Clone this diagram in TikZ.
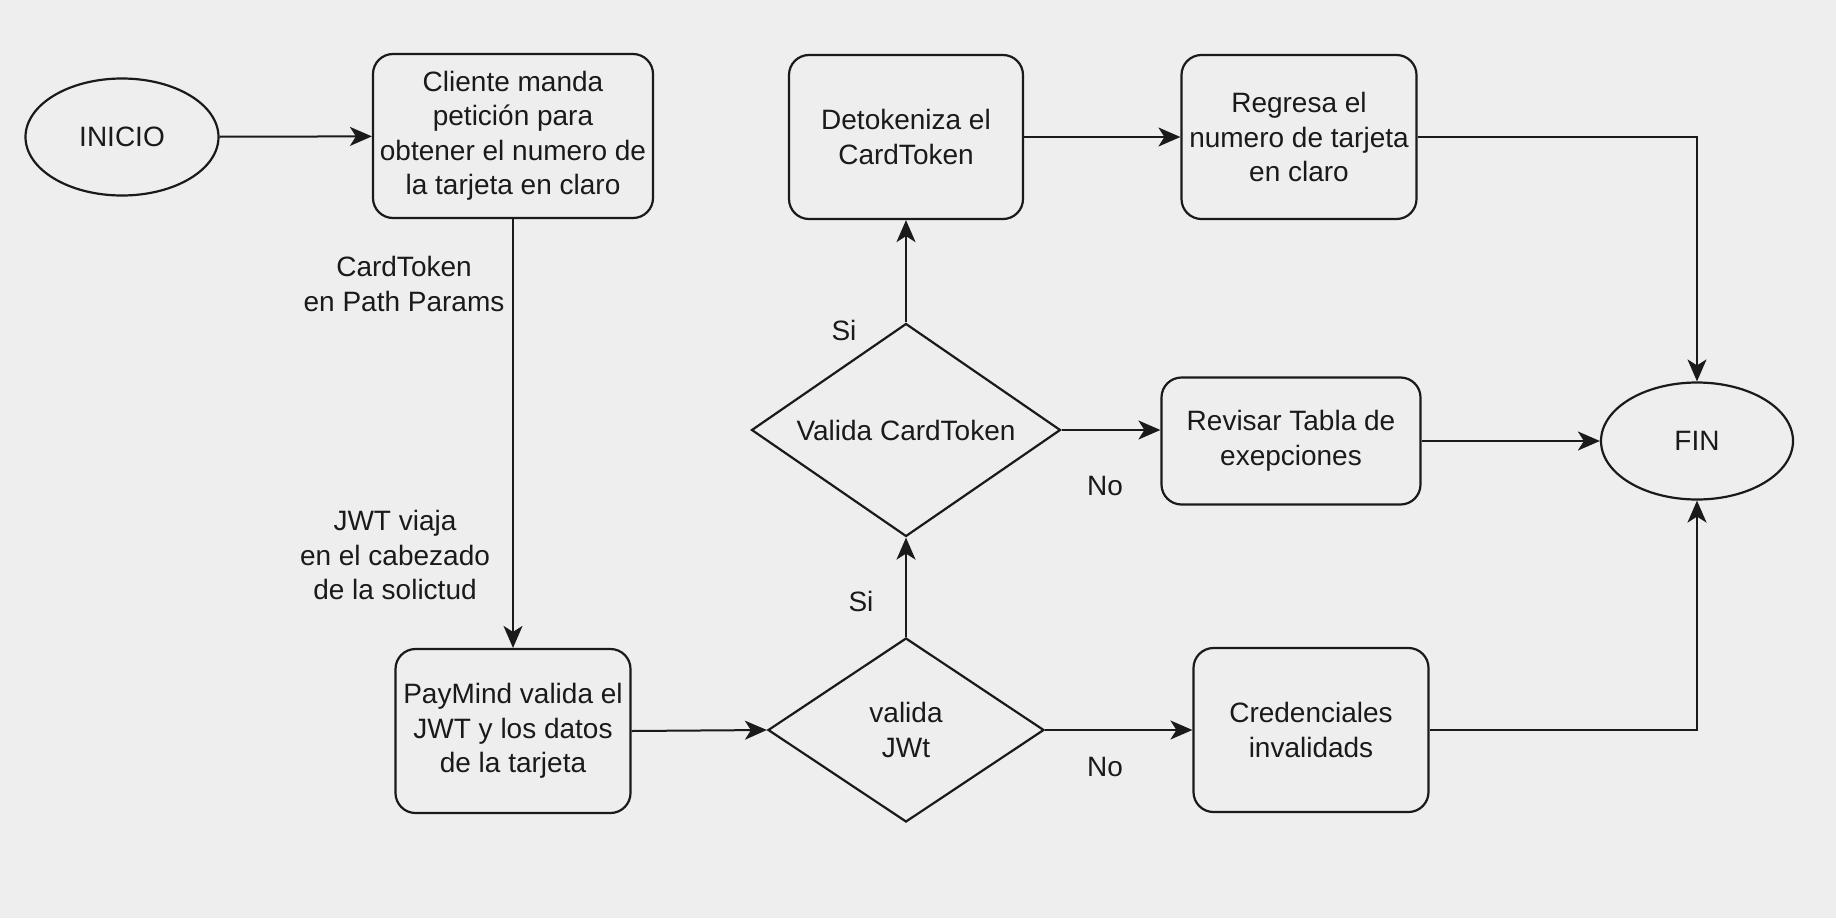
\documentclass[tikz,border=0pt]{standalone}
\usepackage{fontspec}
\setmainfont{Liberation Sans}
\usetikzlibrary{shapes.geometric,arrows.meta}
\definecolor{bgcol}{RGB}{238,238,238}
\definecolor{ink}{RGB}{26,26,26}
\begin{document}
\begin{tikzpicture}[x=1pt,y=-1pt,
  txt/.style={font=\fontsize{28}{34.5}\selectfont, text=ink, align=center},
  box/.style={txt, draw=ink, rounded corners=20pt, line width=2.2pt, inner sep=0pt},
  oval/.style={txt, draw=ink, ellipse, line width=2.2pt, inner sep=0pt},
  dia/.style={txt, draw=ink, diamond, line width=2.2pt, inner sep=0pt},
  arr/.style={draw=ink, line width=2pt, -{Stealth[length=22pt,width=19pt,inset=6pt]}},
  lbl/.style={txt}
]
\fill[bgcol] (0,0) rectangle (1836,918);
\useasboundingbox (0,0) rectangle (1836,918);

\node[oval, minimum width=193pt, minimum height=117pt] (inicio) at (122,137) {INICIO};
\node[box, minimum width=280pt, minimum height=164pt] (cliente) at (513,136) {Cliente manda\\petición para\\obtener el numero de\\la tarjeta en claro};
\node[box, minimum width=234pt, minimum height=164pt] (detok) at (906,137) {Detokeniza el\\CardToken};
\node[box, minimum width=235pt, minimum height=164pt] (regresa) at (1299,137) {Regresa el\\numero de tarjeta\\en claro};
\node[dia, aspect=2.2, minimum width=309pt, minimum height=213pt] (vct) at (906,430) {Valida CardToken};
\node[box, minimum width=259pt, minimum height=127pt] (revisar) at (1291,441) {Revisar Tabla de\\exepciones};
\node[oval, minimum width=192pt, minimum height=117pt] (fin) at (1697,441) {FIN};
\node[box, minimum width=235pt, minimum height=164pt] (paymind) at (513,731) {PayMind valida el\\JWT y los datos\\de la tarjeta};
\node[dia, aspect=1.5, minimum width=276pt, minimum height=184pt] (vjwt) at (906,730) {valida\\JWt};
\node[box, minimum width=235pt, minimum height=164pt] (cred) at (1311,730) {Credenciales\\invalidads};

\node[lbl] (l1) at (404,284) {CardToken\\en Path Params};
\node[lbl] (l2) at (395,555) {JWT viaja\\en el cabezado\\de la solictud};
\node[lbl] (si1) at (844,330) {Si};
\node[lbl] (no1) at (1105,486) {No};
\node[lbl] (si2) at (861,601) {Si};
\node[lbl] (no2) at (1105,767) {No};

\draw[arr] (inicio) -- (cliente);
\draw[arr] (cliente) -- (paymind);
\draw[arr] (paymind.east) -- (vjwt.west);
\draw[arr] (vjwt) -- (vct);
\draw[arr] (vjwt.east) -- (cred.west);
\draw[arr] (vct) -- (detok);
\draw[arr] (vct.east) -- (vct.east -| revisar.west);
\draw[arr] (detok) -- (regresa);
\draw[arr] (regresa.east) -| (fin.north);
\draw[arr] (revisar) -- (fin);
\draw[arr] (cred.east) -| (fin.south);
\end{tikzpicture}
\end{document}
